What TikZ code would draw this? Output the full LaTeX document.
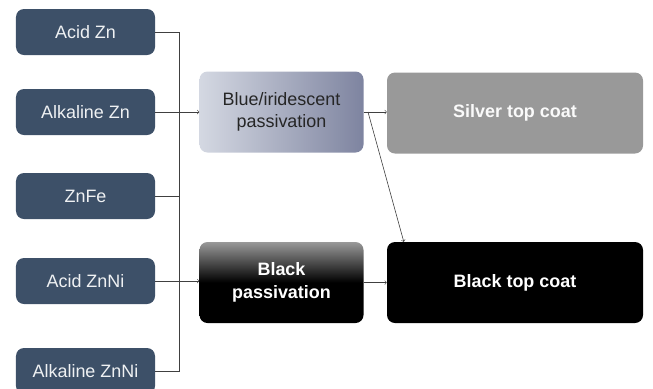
\documentclass[tikz,border=0pt]{standalone}
\usepackage{fontspec}
\setmainfont{Liberation Sans}
\usetikzlibrary{positioning, calc, arrows}

\definecolor{slate}{HTML}{3D5068}
\definecolor{bluelight}{HTML}{D4D8E2}
\definecolor{bluedark}{HTML}{7E84A0}
\definecolor{silvergray}{HTML}{999999}

\tikzset{
	base/.style={rectangle, rounded corners=8bp, inner sep=0pt, align=center, font=\fontsize{18}{22}\selectfont},
	metal/.style={base, fill=slate, text=white!92!slate, minimum width=139bp, minimum height=46bp},
	passbox/.style={base, minimum width=164bp, minimum height=81bp},
	coatbox/.style={base, minimum width=256bp, minimum height=81bp, text=white, font=\fontsize{18}{22}\selectfont\bfseries},
	link/.style={draw=black!75, line width=0.6bp},
	arr/.style={link, -to}
}

\begin{document}
\begin{tikzpicture}[x=1bp, y=-1bp]
			\useasboundingbox (0,0) rectangle (653,388);
			% substrates
			\node[metal] (AZ) at (85.5,32) {Acid Zn};
			\node[metal] (KZ) at (85.5,112) {Alkaline Zn};
			\node[metal] (ZF) at (85.5,196) {ZnFe};
			\node[metal] (AN) at (85.5,281) {Acid ZnNi};
			\node[metal] (KN) at (85.5,371) {Alkaline ZnNi};
			% passivations
			\node[passbox, left color=bluelight, right color=bluedark, text=black!85] (BP) at (281.5,112) {Blue/iridescent\\passivation};
			\node[passbox, top color=black!40, bottom color=black, middle color=black, text=white, font=\fontsize{18}{23}\selectfont\bfseries] (KP) at (281.5,282.5) {Black\\passivation};
			% top coats
			\node[coatbox, fill=silvergray, text=white!95!silvergray] (SC) at (515,113) {Silver top coat};
			\node[coatbox, fill=black] (KC) at (515,282.5) {Black top coat};
			% bus
			\coordinate (bus) at (179,0);
			\coordinate (fork) at (368,112);
			\draw[link] (AZ.east) -| (bus |- KN.east) -- (KN.east);
			\draw[link] (ZF.east) -- (ZF.east -| bus);
			\draw[arr] (KZ.east) -- (BP.west);
			\draw[arr] (AN.east) -- (AN.east -| KP.west);
			\draw[arr] (BP.east) -- (BP.east -| SC.west);
			\draw[arr] (fork) -- ($(KC.north west)+(17,0)$);
			\draw[arr] (KP.east) -- (KC.west);
		\end{tikzpicture}
\end{document}
